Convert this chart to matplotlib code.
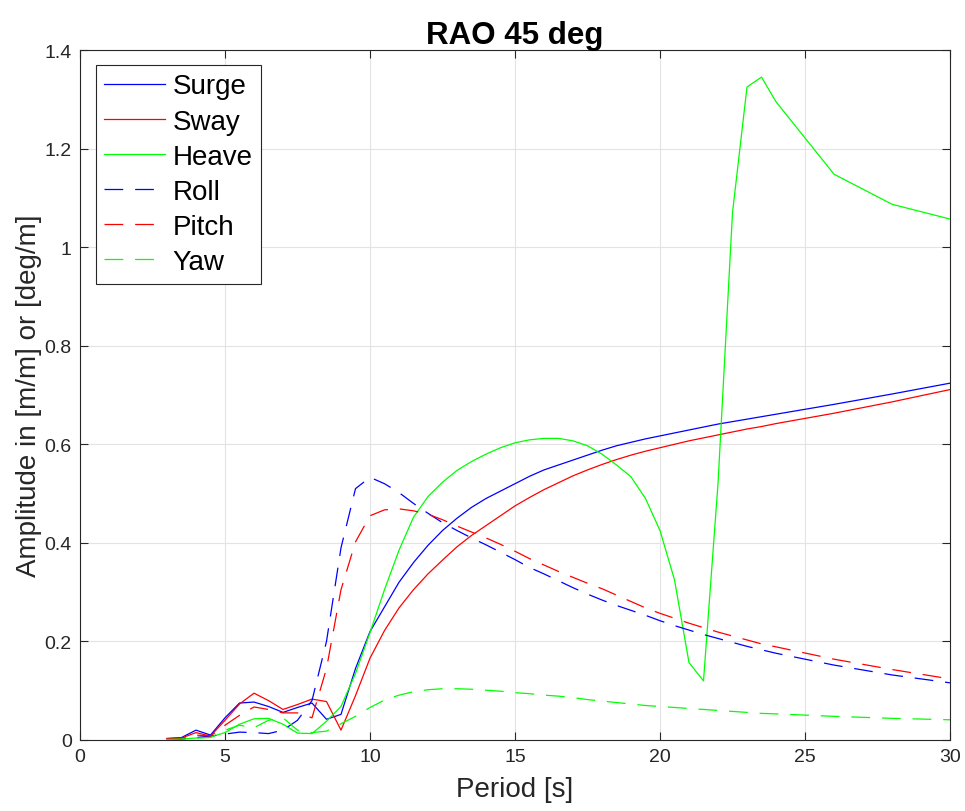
import matplotlib
matplotlib.use("Agg")
import matplotlib.pyplot as plt
from matplotlib.ticker import FuncFormatter

plt.rcParams['font.family'] = ['Liberation Sans', 'DejaVu Sans']

# wave period grid [s]
periods = [3, 3.5, 4, 4.5, 5, 5.5, 6, 6.5, 7, 7.5, 8, 8.5, 9, 9.5, 10, 10.5, 11, 11.5,
           12, 12.5, 13, 13.5, 14, 14.5, 15, 15.5, 16, 16.5, 17, 17.5, 18, 18.5, 19, 19.5,
           20, 20.5, 21, 21.5, 22, 22.5, 23, 23.5, 24, 26, 28, 30]

surge = [0.003, 0.005, 0.02, 0.01, 0.045, 0.075, 0.077, 0.068, 0.056, 0.066, 0.075, 0.042, 0.052,
         0.145, 0.22, 0.27, 0.32, 0.36, 0.395, 0.425, 0.45, 0.472, 0.49, 0.505, 0.52, 0.535, 0.548,
         0.558, 0.568, 0.578, 0.588, 0.597, 0.604, 0.611, 0.617, 0.623, 0.629, 0.635, 0.641, 0.646,
         0.651, 0.656, 0.661, 0.681, 0.702, 0.724]
sway = [0.003, 0.004, 0.015, 0.008, 0.04, 0.073, 0.095, 0.08, 0.062, 0.072, 0.083, 0.078, 0.02,
        0.09, 0.166, 0.222, 0.268, 0.305, 0.337, 0.365, 0.392, 0.415, 0.435, 0.455, 0.475, 0.492,
        0.508, 0.522, 0.536, 0.548, 0.559, 0.569, 0.578, 0.586, 0.593, 0.600, 0.607, 0.613, 0.619,
        0.625, 0.631, 0.636, 0.642, 0.663, 0.686, 0.711]
heave = [0.001, 0.002, 0.004, 0.006, 0.015, 0.032, 0.043, 0.044, 0.032, 0.014, 0.013, 0.038, 0.068,
         0.135, 0.218, 0.305, 0.385, 0.452, 0.494, 0.523, 0.547, 0.565, 0.58, 0.593, 0.603, 0.609,
         0.612, 0.612, 0.607, 0.597, 0.58, 0.558, 0.534, 0.49, 0.425, 0.325, 0.157, 0.12, 0.52,
         1.07, 1.325, 1.345, 1.295, 1.148, 1.087, 1.057]
roll = [0.001, 0.002, 0.005, 0.008, 0.012, 0.016, 0.015, 0.013, 0.02, 0.04, 0.08, 0.2, 0.39,
        0.51, 0.533, 0.52, 0.502, 0.48, 0.46, 0.441, 0.425, 0.41, 0.396, 0.381, 0.366, 0.35,
        0.337, 0.323, 0.309, 0.296, 0.284, 0.273, 0.263, 0.253, 0.242, 0.232, 0.223, 0.214, 0.206,
        0.198, 0.19, 0.183, 0.176, 0.152, 0.132, 0.116]
pitch = [0.002, 0.003, 0.01, 0.008, 0.03, 0.05, 0.067, 0.062, 0.055, 0.055, 0.045, 0.145, 0.305,
         0.402, 0.455, 0.467, 0.469, 0.465, 0.458, 0.447, 0.434, 0.422, 0.41, 0.397, 0.383, 0.368,
         0.355, 0.342, 0.33, 0.318, 0.307, 0.294, 0.281, 0.268, 0.257, 0.247, 0.237, 0.228, 0.219,
         0.211, 0.203, 0.195, 0.189, 0.164, 0.143, 0.124]
yaw = [0.001, 0.002, 0.004, 0.005, 0.02, 0.03, 0.025, 0.04, 0.045, 0.02, 0.015, 0.018, 0.033,
       0.048, 0.066, 0.081, 0.091, 0.098, 0.102, 0.104, 0.104, 0.103, 0.101, 0.099, 0.096, 0.094,
       0.091, 0.089, 0.086, 0.082, 0.079, 0.076, 0.073, 0.07, 0.068, 0.066, 0.064, 0.062, 0.06,
       0.058, 0.056, 0.054, 0.053, 0.048, 0.044, 0.041]

dash = (15, 9.5)
lw = 0.9
axc = '#262626'

fig = plt.figure(figsize=(9.65, 8.12), dpi=100)
ax = fig.add_axes([80/965, 71/812, 870/965, 690/812])

ax.plot(periods, surge, color=(0, 0, 1), lw=lw, label='Surge')
ax.plot(periods, sway, color=(1, 0, 0), lw=lw, label='Sway')
ax.plot(periods, heave, color=(0, 1, 0), lw=lw, label='Heave')
ax.plot(periods, roll, color=(0, 0, 1), lw=lw, dashes=dash, label='Roll')
ax.plot(periods, pitch, color=(1, 0, 0), lw=lw, dashes=dash, label='Pitch')
ax.plot(periods, yaw, color=(0, 1, 0), lw=lw, dashes=dash, label='Yaw')

ax.set_xlim(0, 30)
ax.set_ylim(0, 1.4)
ax.set_xticks([0, 5, 10, 15, 20, 25, 30])
ax.set_yticks([0, 0.2, 0.4, 0.6, 0.8, 1.0, 1.2, 1.4])
ax.yaxis.set_major_formatter(FuncFormatter(lambda v, p: '%g' % round(v, 2)))

ax.grid(True, color='#e3e3e3', lw=0.8)
ax.set_axisbelow(True)
for s in ax.spines.values():
    s.set_color(axc)
    s.set_linewidth(0.8)
ax.tick_params(direction='in', length=6, width=0.8, color=axc, labelcolor=axc,
               labelsize=14, top=True, right=True, pad=6)

ax.set_title('RAO 45 deg', fontsize=22.5, fontweight='bold', pad=5)
ax.set_xlabel('Period [s]', fontsize=20, color=axc, labelpad=8)
ax.set_ylabel('Amplitude in [m/m] or [deg/m]', fontsize=20, color=axc, labelpad=2)

leg = ax.legend(loc='upper left', bbox_to_anchor=(16/870, 1 - 15/690), borderaxespad=0,
                fontsize=20, handlelength=2.2, handletextpad=0.25, labelspacing=0.33,
                borderpad=0.3, fancybox=False, framealpha=1, edgecolor=axc)
leg.get_frame().set_linewidth(0.8)

fig.savefig("out.png", dpi=100)
